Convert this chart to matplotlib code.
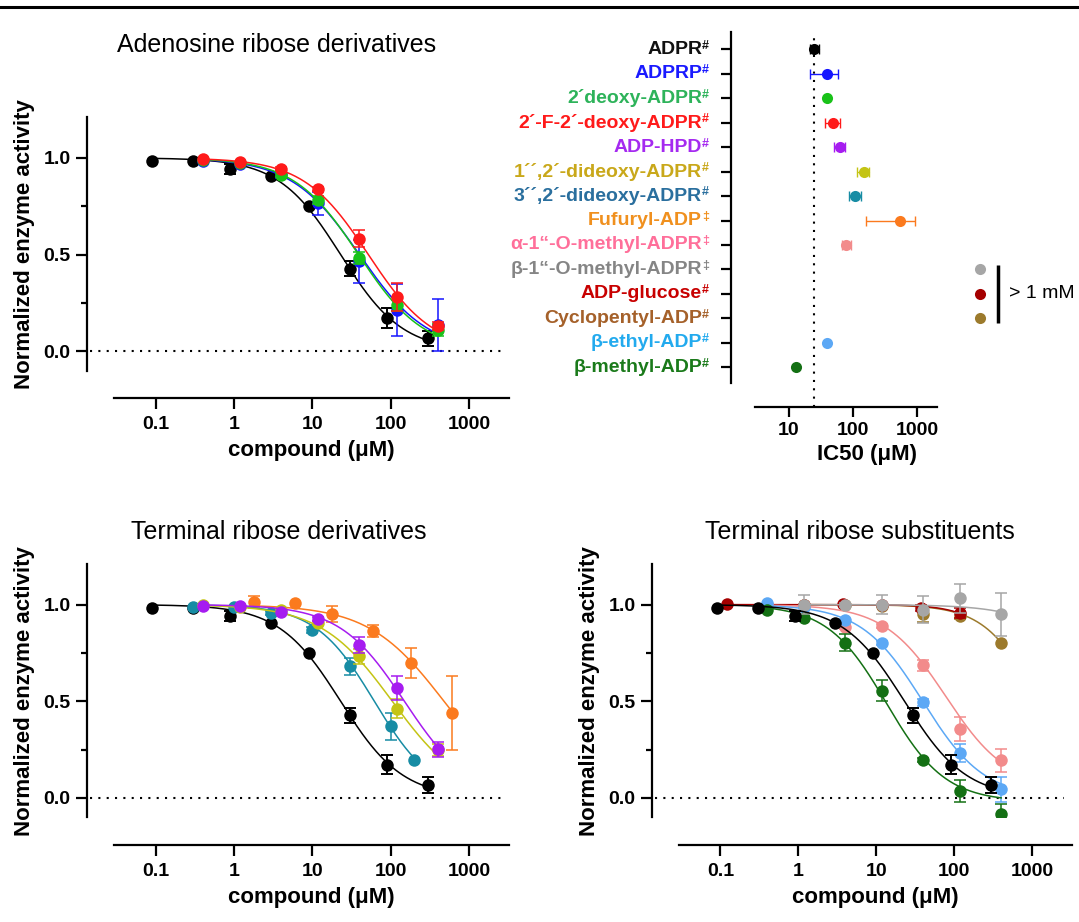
import numpy as np
import matplotlib
matplotlib.use("Agg")
import matplotlib.pyplot as plt
import matplotlib.transforms as mtransforms
from matplotlib.lines import Line2D
from matplotlib.ticker import NullLocator

plt.rcParams['font.family'] = ['Liberation Sans', 'DejaVu Sans']
plt.rcParams['font.weight'] = 'bold'
plt.rcParams['axes.labelweight'] = 'bold'

# ---------------- dose-response data ----------------
# conc in uM, act = normalized activity (mean), err = SEM
# fit = (IC50, Hill slope, bottom) of the fitted curves
adpr_conc = [0.09, 0.3, 0.9, 3, 9, 30, 90, 300]
adpr_act = [0.984, 0.983, 0.942, 0.907, 0.750, 0.427, 0.173, 0.067]
adpr_err = [0, 0, 0.025, 0, 0, 0.04, 0.05, 0.04]
adpr_fit = (23, 1.1, 0.0)

conc_std = [0.4, 1.2, 4, 12, 40, 120, 400]

adprp_act = [0.985, 0.970, 0.915, 0.765, 0.465, 0.212, 0.136]
adprp_err = [0, 0, 0.02, 0.06, 0.11, 0.135, 0.136]
adprp_fit = (40, 1.0, 0.0)

deoxy_act = [0.990, 0.975, 0.912, 0.781, 0.483, 0.238, 0.109]
deoxy_err = [0, 0, 0.01, 0.02, 0.03, 0.03, 0.03]
deoxy_fit = (39, 1.05, 0.0)

fdeoxy_act = [0.997, 0.979, 0.945, 0.838, 0.583, 0.281, 0.131]
fdeoxy_err = [0, 0, 0.01, 0.01, 0.045, 0.07, 0.02]
fdeoxy_fit = (52, 1.05, 0.0)

dd32_conc = [0.3, 1, 3, 10, 30, 100, 200]
dd32_act = [0.990, 0.988, 0.957, 0.870, 0.680, 0.370, 0.198]
dd32_err = [0, 0, 0.01, 0.015, 0.043, 0.068, 0]
dd32_fit = (62, 1.15, 0.0)

dd12_act = [1.0, 0.990, 0.970, 0.906, 0.732, 0.462, 0.248]
dd12_err = [0, 0, 0, 0.01, 0.04, 0.05, 0.03]
dd12_fit = (105, 0.95, 0.0)

hpd_act = [0.995, 0.995, 0.962, 0.926, 0.790, 0.569, 0.251]
hpd_err = [0, 0, 0, 0.01, 0.04, 0.06, 0.04]
hpd_fit = (150, 1.05, 0.0)

fufuryl_conc = [1.8, 6, 18, 60, 180, 600]
fufuryl_act = [1.012, 1.009, 0.952, 0.863, 0.697, 0.439]
fufuryl_err = [0.03, 0, 0.04, 0.03, 0.078, 0.19]
fufuryl_fit = (480, 0.9, 0.0)

glucose_conc = [0.12, 0.4, 1.2, 3.7, 12, 37, 120]
glucose_act = [1.003, 1.0, 1.0, 1.003, 0.998, 0.983, 0.957]
glucose_err = [0, 0, 0, 0, 0, 0.015, 0.025]
glucose_fit = (900, 1.5, 0.0)

cyclo_conc = [1.2, 4, 12, 40, 120, 400]
cyclo_act = [1.0, 1.0, 0.995, 0.949, 0.940, 0.803]
cyclo_err = [0, 0, 0, 0.04, 0.015, 0]
cyclo_fit = (1180, 1.3, 0.0)

bmeo_conc = [1.2, 4, 12, 40, 120, 400]
bmeo_act = [1.0, 1.0, 1.0, 0.974, 1.034, 0.949]
bmeo_err = [0.05, 0.01, 0.05, 0.07, 0.075, 0.11]
bmeo_fit = (10000, 1.0, 0.0)

ameo_act = [1.0, 0.990, 0.883, 0.889, 0.686, 0.357, 0.194]
ameo_err = [0, 0, 0.01, 0.01, 0.03, 0.06, 0.06]
ameo_fit = (78, 1.1, 0.05)

bethyl_act = [1.009, 0.986, 0.918, 0.803, 0.494, 0.232, 0.045]
bethyl_err = [0, 0, 0.01, 0.01, 0.02, 0.045, 0.065]
bethyl_fit = (39.5, 1.1, 0.0)

bmethyl_act = [0.974, 0.931, 0.803, 0.554, 0.197, 0.036, -0.081]
bmethyl_err = [0, 0.01, 0.045, 0.055, 0.01, 0.055, 0.05]
bmethyl_fit = (13.5, 1.15, -0.02)

# ---------------- IC50 summary ----------------
ic50_names = ['ADPR', 'ADPRP', '2´deoxy-ADPR', '2´-F-2´-deoxy-ADPR', 'ADP-HPD',
              '1´´,2´-dideoxy-ADPR', '3´´,2´-dideoxy-ADPR', 'Fufuryl-ADP',
              'α-1“-O-methyl-ADPR', 'β-1“-O-methyl-ADPR', 'ADP-glucose',
              'Cyclopentyl-ADP', 'β-ethyl-ADP', 'β-methyl-ADP']
ic50_marks = ['#', '#', '#', '#', '#', '#', '#', '‡', '‡', '‡', '#', '#', '#', '#']
nan = np.nan
ic50_val = [24.6, 39.8, 39.8, 49, 63, 150, 108, 541, 77.5, nan, nan, nan, 39.8, 12.8]
ic50_low = [21, 21.2, nan, 36.9, 50.3, 115, 85, 157, 67, nan, nan, nan, nan, nan]
ic50_high = [29, 58.4, nan, 63, 76, 180, 135, 920, 93, nan, nan, nan, nan, nan]
above_1mM = ['β-1“-O-methyl-ADPR', 'ADP-glucose', 'Cyclopentyl-ADP']

label_colors = ['#111111', '#1a1aff', '#2db35a', '#ff1a1a', '#a52af0', '#c9a81a',
                '#2a6f9e', '#f0901e', '#ff6f9a', '#858585', '#c80000', '#a5612a',
                '#22aaee', '#1a7a1a']
dot_colors = ['#000000', '#1515ff', '#19c219', '#ff1a1a', '#a61cf0', '#c4c414',
              '#178ca4', '#fb7a1e', '#f28b8b', '#a6a6a6', '#a50000', '#9c7a2c',
              '#5ca8f5', '#147014']

xtick_vals = [0.1, 1, 10, 100, 1000]
xtick_text = ['0.1', '1', '10', '100', '1000']
ic50_ticks = [10, 100, 1000]
ic50_tick_text = ['10', '100', '1000']


def logistic(x, ic50, hill, bottom):
    return bottom + (1.0 - bottom) / (1.0 + (x / ic50) ** hill)


def draw_series(ax, conc, act, err, fit, color, z):
    conc = np.asarray(conc, float)
    act = np.asarray(act, float)
    err = np.asarray(err, float)
    xs = np.logspace(np.log10(conc.min()), np.log10(conc.max()), 300)
    ax.plot(xs, logistic(xs, *fit), color=color, lw=1.1, zorder=z)
    lw = 1.4 if color == '#000000' else 1.1
    m = err > 0
    if m.any():
        ax.errorbar(conc[m], act[m], yerr=err[m], fmt='none', ecolor=color,
                    elinewidth=lw, capsize=4.3, capthick=lw, zorder=z)
    ax.plot(conc, act, 'o', ms=9, color=color, mec='none', zorder=z + 0.5)


def style_dose_axes(ax):
    ax.set_xscale('log')
    ax.set_xlim(0.0295, 3240)
    ax.set_ylim(-0.10, 1.21)
    ax.spines[['top', 'right']].set_visible(False)
    ax.spines['left'].set_position(('outward', 19.2))
    ax.spines['bottom'].set_position(('outward', 19.9))
    for s in ('left', 'bottom'):
        ax.spines[s].set_linewidth(1.6)
    ax.set_xticks(xtick_vals, xtick_text)
    ax.xaxis.set_minor_locator(NullLocator())
    ax.set_yticks([0, 0.5, 1.0], ['0.0', '0.5', '1.0'])
    ax.set_yticks([0.25, 0.75], minor=True)
    ax.tick_params(which='major', length=8, width=1.6, labelsize=14, pad=4)
    ax.tick_params(axis='x', which='major', pad=5)
    ax.tick_params(which='minor', length=4, width=1.6)
    ax.set_xlabel('compound (μM)', fontsize=16, labelpad=5)
    ax.set_ylabel('Normalized enzyme activity', fontsize=16)
    ax.yaxis.set_label_coords(-0.2, 0.5)
    trans = mtransforms.blended_transform_factory(ax.transAxes, ax.transData)
    ax.plot([-0.061, 0.98], [0, 0], transform=trans, color='black', lw=1.5,
            ls=(0, (1, 3)), clip_on=False, zorder=1)


W, H = 1079, 922
fig = plt.figure(figsize=(W / 100, H / 100), dpi=100)


def px_axes(x0, y0, x1, y1):
    return fig.add_axes([x0 / W, 1 - y1 / H, (x1 - x0) / W, (y1 - y0) / H])


axA = px_axes(114, 117.3, 509, 370.7)
axB = px_axes(755, 32.3, 937, 383.3)
axC = px_axes(114, 564, 509, 817.3)
axD = px_axes(679, 564, 1072, 817.3)

# ---------- A: adenosine ribose derivatives ----------
style_dose_axes(axA)
draw_series(axA, adpr_conc, adpr_act, adpr_err, adpr_fit, dot_colors[0], 2)
draw_series(axA, conc_std, adprp_act, adprp_err, adprp_fit, dot_colors[1], 3)
draw_series(axA, conc_std, deoxy_act, deoxy_err, deoxy_fit, dot_colors[2], 4)
draw_series(axA, conc_std, fdeoxy_act, fdeoxy_err, fdeoxy_fit, dot_colors[3], 5)

# ---------- C: terminal ribose derivatives ----------
style_dose_axes(axC)
draw_series(axC, adpr_conc, adpr_act, adpr_err, adpr_fit, dot_colors[0], 2)
draw_series(axC, fufuryl_conc, fufuryl_act, fufuryl_err, fufuryl_fit, dot_colors[7], 3)
draw_series(axC, dd32_conc, dd32_act, dd32_err, dd32_fit, dot_colors[6], 4)
draw_series(axC, conc_std, dd12_act, dd12_err, dd12_fit, dot_colors[5], 5)
draw_series(axC, conc_std, hpd_act, hpd_err, hpd_fit, dot_colors[4], 6)

# ---------- D: terminal ribose substituents ----------
style_dose_axes(axD)
draw_series(axD, cyclo_conc, cyclo_act, cyclo_err, cyclo_fit, dot_colors[11], 2)
draw_series(axD, glucose_conc, glucose_act, glucose_err, glucose_fit, dot_colors[10], 3)
draw_series(axD, conc_std, ameo_act, ameo_err, ameo_fit, dot_colors[8], 4)
draw_series(axD, conc_std, bethyl_act, bethyl_err, bethyl_fit, dot_colors[12], 5)
draw_series(axD, conc_std, bmethyl_act, bmethyl_err, bmethyl_fit, dot_colors[13], 6)
draw_series(axD, bmeo_conc, bmeo_act, bmeo_err, bmeo_fit, dot_colors[9], 7)
draw_series(axD, adpr_conc, adpr_act, adpr_err, adpr_fit, dot_colors[0], 8)

# ---------- B: IC50 overview ----------
n = len(ic50_names)
axB.set_xscale('log')
axB.set_xlim(2.94, 2050)
axB.set_ylim(n - 1 + 0.66, -0.70)
axB.spines[['top', 'right']].set_visible(False)
axB.spines['left'].set_position(('outward', 17.6))
axB.spines['bottom'].set_position(('outward', 17.3))
for s in ('left', 'bottom'):
    axB.spines[s].set_linewidth(1.6)
axB.set_yticks(range(n), [''] * n)
axB.set_xticks(ic50_ticks, ic50_tick_text)
axB.xaxis.set_minor_locator(NullLocator())
axB.tick_params(length=7.5, width=1.6, labelsize=14, pad=3)
axB.set_xlabel('IC50 (μM)', fontsize=16, labelpad=4, x=0.618)

axB.axvline(ic50_val[0], ymin=-0.068, ymax=1, color='black', lw=1.5,
            ls=(0, (1, 3)), clip_on=False, zorder=1)

for i in range(n):
    v = ic50_val[i]
    if np.isnan(v):
        continue
    if not np.isnan(ic50_low[i]):
        axB.errorbar([v], [i], xerr=[[v - ic50_low[i]], [ic50_high[i] - v]],
                     fmt='none', ecolor=dot_colors[i], elinewidth=1.0,
                     capsize=3.5, capthick=1.0, zorder=2)
    axB.plot([v], [i], 'o', ms=8, color=dot_colors[i], mec='none', zorder=3)

tB = mtransforms.blended_transform_factory(axB.transAxes, axB.transData)
for i, (name, mark) in enumerate(zip(ic50_names, ic50_marks)):
    axB.text(-0.291, i, name, transform=tB, ha='right', va='center',
             fontsize=14, color=label_colors[i])
    axB.text(-0.291, i - 0.15, mark, transform=tB, ha='left', va='center',
             fontsize=9, color=label_colors[i])

rows = [ic50_names.index(nm) for nm in above_1mM]
for r in rows:
    axB.plot([1.236], [r], 'o', ms=8, color=dot_colors[r], mec='none',
             transform=tB, clip_on=False)
axB.plot([1.335, 1.335], [min(rows) - 0.18, max(rows) + 0.18], color='black',
         lw=2.5, transform=tB, clip_on=False, solid_capstyle='butt')
axB.text(1.396, np.mean(rows), '> 1 mM', transform=tB, ha='left', va='center',
         fontsize=14, fontweight='normal')

# ---------- titles and top rule ----------
fig.text(277 / W, 1 - 45 / H, 'Adenosine ribose derivatives', fontsize=18,
         fontweight='normal', ha='center', va='center')
fig.text(279 / W, 1 - 531.7 / H, 'Terminal ribose derivatives', fontsize=18,
         fontweight='normal', ha='center', va='center')
fig.text(860 / W, 1 - 532 / H, 'Terminal ribose substituents', fontsize=18,
         fontweight='normal', ha='center', va='center')
fig.add_artist(Line2D([0, 1], [1 - 6.7 / H, 1 - 6.7 / H], transform=fig.transFigure,
                      color='black', lw=2.2))

fig.savefig('out.png', dpi=100)
